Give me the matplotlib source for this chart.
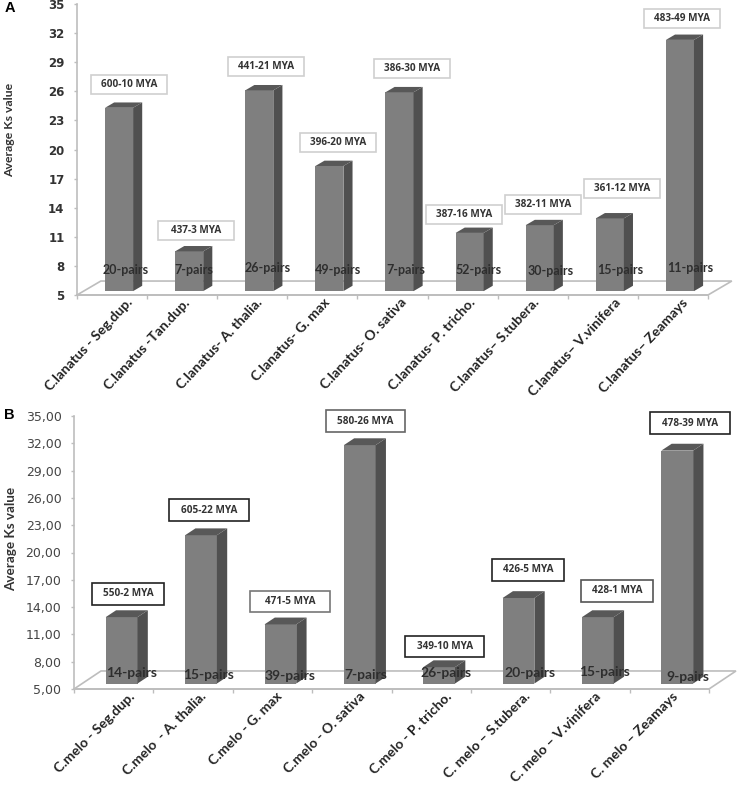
import matplotlib
matplotlib.use("Agg")
import matplotlib.pyplot as plt
from matplotlib.patches import Polygon, Rectangle

plt.rcParams['font.family'] = ['Lato', 'DejaVu Sans']

# panel A
names_a = ["C.lanatus - Seg.dup.", "C.lanatus -Tan.dup.", "C.lanatus- A. thalia.", "C.lanatus- G. max",
           "C.lanatus- O. sativa", "C.lanatus- P. tricho.", "C.lanatus– S.tubera.", "C.lanatus– V.vinifera",
           "C.lanatus– Zeamays"]
ks_a = [24.3, 9.5, 26.1, 18.3, 25.9, 11.4, 12.2, 12.9, 31.3]
pairs_a = ["20-pairs", "7-pairs", "26-pairs", "49-pairs", "7-pairs", "52-pairs", "30-pairs", "15-pairs", "11-pairs"]
mya_a = ["600-10 MYA", "437-3 MYA", "441-21 MYA", "396-20 MYA", "386-30 MYA", "387-16 MYA", "382-11 MYA",
         "361-12 MYA", "483-49 MYA"]

# panel B
names_b = ["C.melo - Seg.dup.", "C.melo  - A. thalia.", "C.melo - G. max", "C.melo - O. sativa",
           "C.melo - P. tricho.", "C. melo – S.tubera.", "C. melo – V.vinifera", "C. melo – Zeamays"]
ks_b = [12.9, 21.9, 12.1, 31.8, 7.4, 15.0, 12.9, 31.2]
pairs_b = ["14-pairs", "15-pairs", "39-pairs", "7-pairs", "26-pairs", "20-pairs", "15-pairs", "9-pairs"]
mya_b = ["550-2 MYA", "605-22 MYA", "471-5 MYA", "580-26 MYA", "349-10 MYA", "426-5 MYA", "428-1 MYA", "478-39 MYA"]

yticks = [5, 8, 11, 14, 17, 20, 23, 26, 29, 32, 35]

# where the annotations sit (category units, value units)
box_x_a = [0.24, 1.20, 2.20, 3.22, 4.28, 5.02, 6.15, 7.27, 8.13]
box_y_a = [26.75, 11.6, 28.56, 20.72, 28.3, 13.25, 14.38, 16.03, 33.5]
pair_x_a = [0.20, 1.17, 2.22, 3.22, 4.19, 5.23, 6.25, 7.25, 8.24]
pair_y_a = [7.58, 7.58, 7.78, 7.58, 7.58, 7.58, 7.5, 7.58, 7.8]
name_x_a = [0.30, 1.11, 2.15, 3.11, 4.20, 5.19, 6.10, 7.26, 8.22]

box_x_b = [0.18, 1.20, 2.22, 3.17, 4.17, 5.22, 6.34, 7.26]
box_y_b = [15.44, 24.67, 14.62, 34.45, 9.67, 18.08, 15.77, 34.23]
box_w_b = [0.9, 1.0, 1.0, 1.0, 1.0, 0.9, 0.9, 1.0]
box_edge_b = ['#222222', '#222222', '#777777', '#666666', '#222222', '#222222', '#555555', '#222222']
pair_x_b = [0.23, 1.19, 2.22, 3.18, 4.19, 5.24, 6.19, 7.23]
pair_y_b = [6.76, 6.54, 6.43, 6.54, 6.76, 6.76, 6.87, 6.32]
name_x_b = [0.27, 1.18, 2.13, 3.17, 4.27, 5.26, 6.14, 7.12]

W, H = 738, 791
fig = plt.figure(figsize=(W / 100, H / 100), dpi=100)


def panel(rect, ks, pairs, mya, names, base, depth, back, bw, bx, by, bh, pair_x, pair_y, name_x,
          edges, ticklabels, tickstyle, pairsize, namesize, nameangle):
    ax = fig.add_axes([rect[0] / W, 1 - rect[3] / H, (rect[2] - rect[0]) / W, (rect[3] - rect[1]) / H])
    n = len(ks)
    ax.set_xlim(-0.5, n - 0.5)
    ax.set_ylim(5, 35)
    for s in ['top', 'right']:
        ax.spines[s].set_visible(False)
    for s in ['left', 'bottom']:
        ax.spines[s].set_color('#bdbdbd')
        ax.spines[s].set_linewidth(1.2)

    # floor
    ax.add_patch(Polygon([(-0.5, 5), (-0.5 + 0.34, back), (n - 0.5 + 0.34, back), (n - 0.5, 5)], closed=True,
                         fill=False, ec='#bdbdbd', lw=1.2, clip_on=False, zorder=1))

    # the bars, side and top faces follow the value
    dx = 0.13
    x = [i + 0.1 for i in range(n)]
    ax.bar(x, [k - base for k in ks], bottom=base, width=0.4, color='#7f7f7f', zorder=3)
    for xi, k in zip(x, ks):
        l, r = xi - 0.2, xi + 0.2
        ax.add_patch(Polygon([(r, base), (r + dx, base + depth), (r + dx, k + depth), (r, k)], color='#505050',
                             lw=0, zorder=3, clip_on=False))
        ax.add_patch(Polygon([(l, k), (l + dx, k + depth), (r + dx, k + depth), (r, k)], color='#585858',
                             lw=0, zorder=3, clip_on=False))

    for i in range(n):
        w = bw[i]
        ax.add_patch(Rectangle((bx[i] - w / 2, by[i] - bh / 2), w, bh, fc='white', ec=edges[i], lw=1.2,
                               clip_on=False, zorder=4))
        ax.text(bx[i], by[i], mya[i], ha='center', va='center', fontsize=7.2, fontweight='bold', color='#333333',
                family='Open Sans', zorder=5)
        ax.text(pair_x[i], pair_y[i], pairs[i], ha='center', va='center', fontsize=pairsize, fontweight='bold',
                color='#2e2e2e', zorder=6)
        ax.annotate(names[i], xy=(name_x[i], 5), xytext=(-5, -1), textcoords='offset points', ha='right', va='top',
                    rotation=nameangle, rotation_mode='anchor', fontsize=namesize, fontweight='bold',
                    color='#222222')

    # ticks on the category boundaries like the original
    ax.set_xticks([i - 0.5 for i in range(n + 1)])
    ax.set_xticklabels([])
    ax.set_yticks(yticks)
    ax.set_yticklabels(ticklabels, **tickstyle)
    ax.tick_params(axis='y', color='#bdbdbd', length=2, width=1, pad=7)
    ax.tick_params(axis='x', color='#bdbdbd', length=3, width=1)
    return ax


panel((77, 4, 708, 295), ks_a, pairs_a, mya_a, names_a, 5.4, 0.55, 6.44, [1.08] * 9, box_x_a, box_y_a, 1.96,
      pair_x_a, pair_y_a, name_x_a, ['#cfcfcf'] * 9, [str(t) for t in yticks],
      dict(fontsize=8.5, fontweight='bold', color='#333333', family='DejaVu Sans'), 9, 10, 47)

panel((74, 416, 709, 689), ks_b, pairs_b, mya_b, names_b, 5.6, 0.75, 6.98, box_w_b, box_x_b, box_y_b, 2.4,
      pair_x_b, pair_y_b, name_x_b, box_edge_b, [f"{t},00" for t in yticks],
      dict(fontsize=9, color='#444444', family='DejaVu Sans'), 10, 10, 45)

fig.text(10 / W, 1 - 130 / H, "Average Ks value", rotation=90, ha='center', va='center', fontsize=8.8,
         fontweight='bold', color='#333333')
fig.text(11 / W, 1 - 539 / H, "Average Ks value", rotation=90, ha='center', va='center', fontsize=9.7,
         fontweight='bold', color='#333333')
fig.text(10 / W, 1 - 8 / H, "A", ha='center', va='center', fontsize=10.5, fontweight='bold', color='black',
         family='Liberation Sans')
fig.text(9 / W, 1 - 415 / H, "B", ha='center', va='center', fontsize=10.5, fontweight='bold', color='black',
         family='Liberation Sans')

fig.savefig("out.png", dpi=100)
